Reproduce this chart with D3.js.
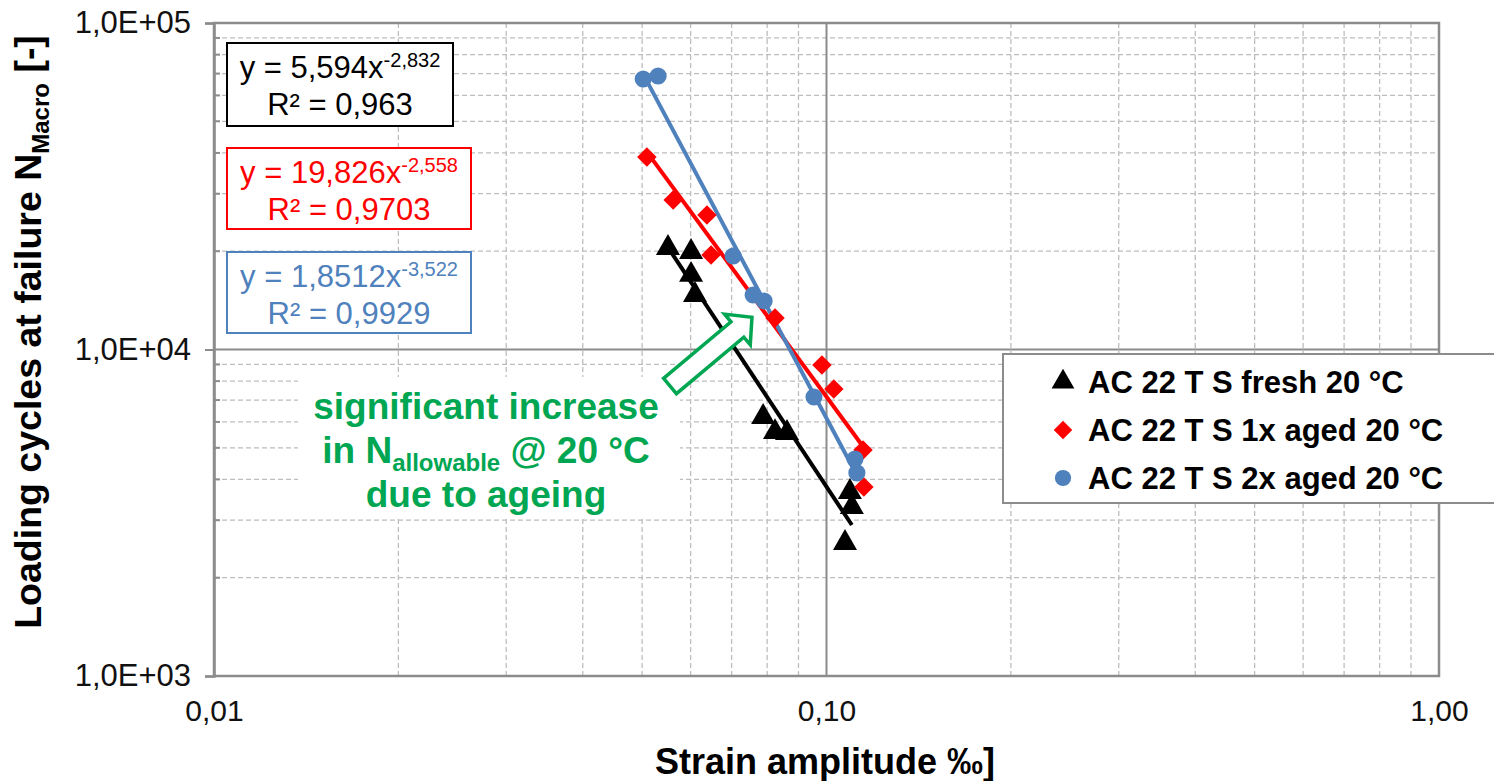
<!DOCTYPE html>
<html>
<head>
<meta charset="utf-8">
<script src="https://cdn.jsdelivr.net/npm/d3@7"></script>
<style>
body { margin: 0; background: #fff; }
svg { display: block; font-family: "Liberation Sans", Arial, sans-serif; }
</style>
</head>
<body>
<div id="showBox"></div>
<script>
// strain amplitude [‰] and cycles to failure
const freshX = [0.0551, 0.0601, 0.0601, 0.0610, 0.0788, 0.0824, 0.0862, 0.1092, 0.1100, 0.1072]
const freshN = [20460, 19890, 16920, 14690, 6215, 5588, 5550, 3661, 3294, 2555]
const aged1X = [0.0509, 0.0562, 0.0638, 0.0648, 0.0824, 0.0983, 0.1028, 0.1147, 0.1151]
const aged1N = [38870, 28700, 25820, 19470, 12490, 8965, 7568, 4922, 3793]
const aged2X = [0.0502, 0.0531, 0.0704, 0.0759, 0.0791, 0.0954, 0.1113, 0.1121]
const aged2N = [67380, 68830, 19340, 14690, 14080, 7152, 4618, 4188]

const seriesNames = ["AC 22 T S fresh 20 °C", "AC 22 T S 1x aged 20 °C", "AC 22 T S 2x aged 20 °C"]
const seriesColors = ["#000000", "#FF0000", "#4F81BD"]

// power fits y = a * x^b as printed on the chart
const fitA = [5.594, 19.826, 1.8512]
const fitB = [-2.832, -2.558, -3.522]
const fitALabel = ["5,594", "19,826", "1,8512"]
const fitBLabel = ["-2,832", "-2,558", "-3,522"]
const fitR2Label = ["0,963", "0,9703", "0,9929"]

const xTicks = [0.01, 0.1, 1]
const yTicks = [1e3, 1e4, 1e5]

const W = 1494, H = 781
const pLeft = 214, pRight = 1439, pTop = 23, pBottom = 676

const x = d3.scaleLog().domain([0.01, 1]).range([pLeft, pRight])
const y = d3.scaleLog().domain([1e3, 1e5]).range([pBottom, pTop])

const svg = d3.select("#showBox").append("svg").attr("width", W).attr("height", H)

// minor gridlines
const minorX = x.ticks().filter(d => !xTicks.some(t => Math.abs(t - d) < 1e-9))
const minorY = y.ticks().filter(d => !yTicks.includes(d))

svg.append("g").attr("stroke", "#bdbdbd").attr("stroke-width", 1.3).attr("stroke-dasharray", "5,3")
    .call(g => g.selectAll("line.vx").data(minorX).join("line")
        .attr("x1", d => x(d)).attr("x2", d => x(d)).attr("y1", pTop).attr("y2", pBottom))
    .call(g => g.selectAll("line.hy").data(minorY).join("line")
        .attr("x1", pLeft).attr("x2", pRight).attr("y1", d => y(d)).attr("y2", d => y(d)))

// major gridlines
svg.append("g").attr("stroke", "#8c8c8c").attr("stroke-width", 2)
    .call(g => g.append("line").attr("x1", x(0.1)).attr("x2", x(0.1)).attr("y1", pTop).attr("y2", pBottom))
    .call(g => g.append("line").attr("x1", pLeft).attr("x2", pRight).attr("y1", y(1e4)).attr("y2", y(1e4)))

// plot border
svg.append("rect").attr("x", pLeft).attr("y", pTop).attr("width", pRight - pLeft).attr("height", pBottom - pTop)
    .attr("fill", "none").attr("stroke", "#8c8c8c").attr("stroke-width", 2.5)

// y axis
const yAxis = d3.axisLeft(y).tickValues(yTicks).tickSize(9).tickPadding(14)
    .tickFormat(d => "1,0E+" + String(Math.round(Math.log10(d))).padStart(2, "0"))
svg.append("g").attr("transform", `translate(${pLeft},0)`).call(yAxis)
    .call(g => g.select(".domain").attr("stroke", "#8c8c8c").attr("stroke-width", 2.5))
    .call(g => g.selectAll(".tick line").attr("stroke", "#8c8c8c").attr("stroke-width", 2))
    .call(g => g.selectAll(".tick text").attr("font-size", 31).attr("fill", "#111").attr("font-family", null))
svg.append("g").attr("stroke", "#8c8c8c").attr("stroke-width", 2)
    .selectAll("line").data(minorY).join("line")
    .attr("x1", pLeft).attr("x2", pLeft + 6).attr("y1", d => y(d)).attr("y2", d => y(d))

// x axis
const xAxis = d3.axisBottom(x).tickValues(xTicks).tickSize(0).tickPadding(24)
    .tickFormat(d => d.toFixed(2).replace(".", ","))
svg.append("g").attr("transform", `translate(0,${pBottom})`).call(xAxis)
    .call(g => g.select(".domain").remove())
    .call(g => g.selectAll(".tick text").attr("font-size", 30).attr("fill", "#111").attr("font-family", null))

// axis titles
svg.append("text").attr("x", 825).attr("y", 774).attr("text-anchor", "middle")
    .attr("font-size", 36).attr("font-weight", "bold").text("Strain amplitude ‰]")

const yTitle = svg.append("text").attr("transform", "translate(41,332) rotate(-90)")
    .attr("text-anchor", "middle").attr("font-size", 37.5).attr("font-weight", "bold")
yTitle.append("tspan").text("Loading cycles at failure N")
yTitle.append("tspan").attr("font-size", 24).attr("dy", 8).text("Macro")
yTitle.append("tspan").attr("dy", -8).text(" [-]")

// annotation background box
svg.append("rect").attr("x", 298).attr("y", 377).attr("width", 382).attr("height", 141).attr("fill", "#fff")

// trend lines
const xsAll = [freshX, aged1X, aged2X]
const nsAll = [freshN, aged1N, aged2N]
const line = d3.line().x(d => x(d[0])).y(d => y(d[1]))
xsAll.forEach((xs, i) => {
    const ext = d3.extent(xs)
    const pts = ext.map(v => [v, fitA[i] * Math.pow(v, fitB[i])])
    svg.append("path").attr("d", line(pts)).attr("fill", "none")
        .attr("stroke", seriesColors[i]).attr("stroke-width", 4)
})

// markers
const symbols = [
    {type: d3.symbolTriangle, size: 250, rot: 0},
    {type: d3.symbolSquare, size: 190, rot: 45},
    {type: d3.symbolCircle, size: 230, rot: 0}
]
xsAll.forEach((xs, i) => {
    const pts = xs.map((v, j) => [v, nsAll[i][j]])
    svg.append("g").selectAll("path").data(pts).join("path")
        .attr("d", d3.symbol().type(symbols[i].type).size(symbols[i].size))
        .attr("transform", d => `translate(${x(d[0])},${y(d[1])}) rotate(${symbols[i].rot})`)
        .attr("fill", seriesColors[i])
})

// equation boxes
const eqBoxes = [
    {x: 227, y: 43, w: 226, h: 83},
    {x: 227, y: 148, w: 244, h: 81},
    {x: 227, y: 252, w: 244, h: 81}
]
eqBoxes.forEach((b, i) => {
    const g = svg.append("g")
    g.append("rect").attr("x", b.x).attr("y", b.y).attr("width", b.w).attr("height", b.h)
        .attr("fill", "#fff").attr("stroke", seriesColors[i]).attr("stroke-width", 2)
    const cx = b.x + b.w / 2
    const t1 = g.append("text").attr("x", cx).attr("y", b.y + 35).attr("text-anchor", "middle")
        .attr("font-size", 31).attr("fill", seriesColors[i])
    t1.append("tspan").text(`y = ${fitALabel[i]}x`)
    t1.append("tspan").attr("dy", -11).attr("font-size", 20).text(fitBLabel[i])
    g.append("text").attr("x", cx).attr("y", b.y + 72).attr("text-anchor", "middle")
        .attr("font-size", 31).attr("fill", seriesColors[i]).text(`R² = ${fitR2Label[i]}`)
})

// legend
const lg = svg.append("g")
lg.append("rect").attr("x", 1003).attr("y", 354).attr("width", 520).attr("height", 149)
    .attr("fill", "#fff").attr("stroke", "#8c8c8c").attr("stroke-width", 2)
seriesNames.forEach((name, i) => {
    const ry = 382 + i * 48
    lg.append("path")
        .attr("d", d3.symbol().type(symbols[i].type).size(symbols[i].size * 0.9))
        .attr("transform", `translate(1063,${ry}) rotate(${symbols[i].rot})`)
        .attr("fill", seriesColors[i])
    lg.append("text").attr("x", 1088).attr("y", ry + 11).attr("font-size", 31)
        .attr("font-weight", "bold").text(name)
})

// green annotation
const green = "#00A651"
const ann = svg.append("g").attr("fill", green).attr("font-weight", "bold").attr("font-size", 37)
    .attr("text-anchor", "middle")
ann.append("text").attr("x", 486).attr("y", 419).text("significant increase")
const l2 = ann.append("text").attr("x", 486).attr("y", 463)
l2.append("tspan").text("in N")
l2.append("tspan").attr("font-size", 24).attr("dy", 8).text("allowable")
l2.append("tspan").attr("dy", -8).text(" @ 20 °C")
ann.append("text").attr("x", 486).attr("y", 507).text("due to ageing")

svg.append("polygon")
    .attr("points", [[0, -10], [88, -10], [88, -20], [107, 0], [88, 20], [88, 10], [0, 10]].map(p => p.join(",")).join(" "))
    .attr("transform", "translate(670,386) rotate(-40)")
    .attr("fill", "#fff").attr("stroke", green).attr("stroke-width", 3.5)
</script>
</body>
</html>
